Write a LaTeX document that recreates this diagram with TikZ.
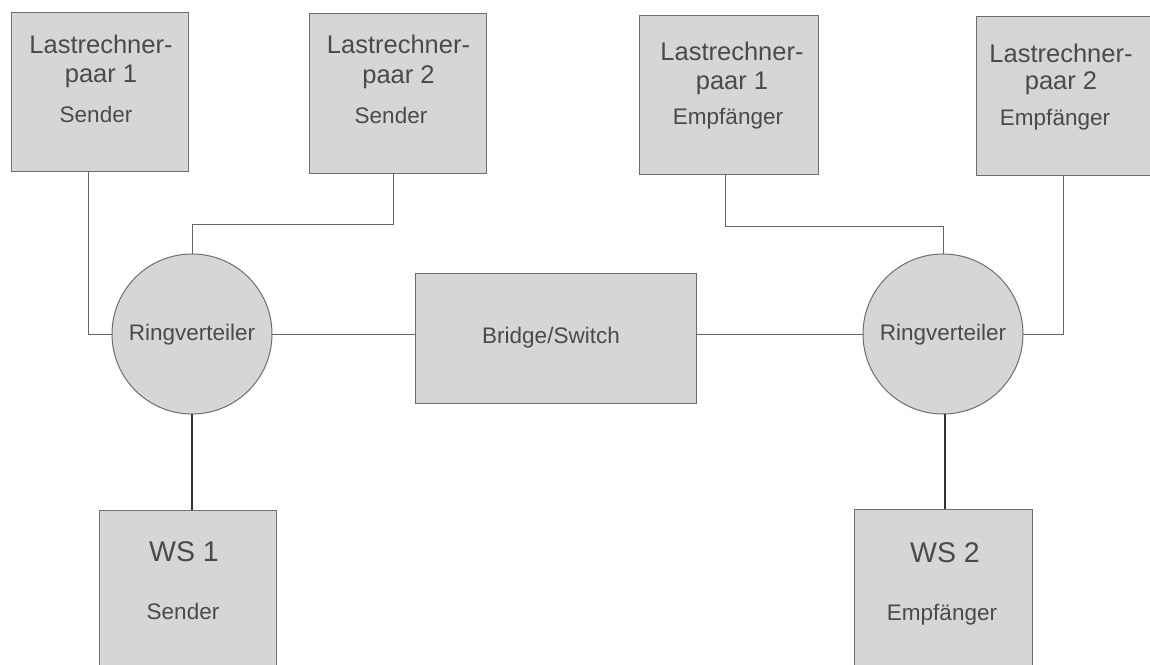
\documentclass[tikz,border=0pt]{standalone}
\usepackage{fontspec}
\setmainfont{Liberation Sans}
\definecolor{boxfill}{HTML}{D6D6D6}
\definecolor{boxdraw}{HTML}{6E6E6E}
\definecolor{wire}{HTML}{666666}
\definecolor{txt}{HTML}{4A4A4A}
\tikzset{
  unitbox/.style={draw=boxdraw, fill=boxfill, line width=1pt, inner sep=0pt, outer sep=0pt, rectangle},
  ringnode/.style={draw=boxdraw, fill=boxfill, line width=1pt, circle, inner sep=0pt, outer sep=0pt, minimum size=160pt},
  bigtxt/.style={anchor=base, text=txt, font=\fontsize{25.5}{30}\selectfont, inner sep=0pt},
  subtxt/.style={anchor=base, text=txt, font=\fontsize{22.5}{27}\selectfont, inner sep=0pt},
  wstxt/.style={anchor=base, text=txt, font=\fontsize{28.5}{34}\selectfont, inner sep=0pt},
  wire/.style={draw=wire, line width=1pt},
  thickwire/.style={draw=black!80, line width=1.5pt}
}
\begin{document}
\begin{tikzpicture}[x=1pt, y=-1pt]
\useasboundingbox (0,0) rectangle (1150,664);
\clip (0,0) rectangle (1150,664);
% boxes
\node[unitbox, minimum width=177pt, minimum height=159pt] (lp1s) at (99.5,91.5) {};
\node[unitbox, minimum width=177pt, minimum height=160pt] (lp2s) at (397.5,93) {};
\node[unitbox, minimum width=179pt, minimum height=159pt] (lp1e) at (728.5,94.5) {};
\node[unitbox, minimum width=178pt, minimum height=159pt] (lp2e) at (1065,95.5) {};
\node[unitbox, minimum width=281pt, minimum height=130pt] (bridge) at (555.5,338) {};
\node[ringnode] (ring1) at (192,334) {};
\node[ringnode] (ring2) at (943,334) {};
\node[unitbox, minimum width=177pt, minimum height=160pt] (ws1) at (187.5,590) {};
\node[unitbox, minimum width=178pt, minimum height=160pt] (ws2) at (943,589) {};
% texts
\node[bigtxt] (t1a) at (101,53) {Lastrechner-};
\node[bigtxt] (t1b) at (101,82) {paar 1};
\node[subtxt] (t1c) at (96,122.5) {Sender};
\node[bigtxt] (t2a) at (398.5,53) {Lastrechner-};
\node[bigtxt] (t2b) at (398.5,83) {paar 2};
\node[subtxt] (t2c) at (391,123) {Sender};
\node[bigtxt] (t3a) at (732,60) {Lastrechner-};
\node[bigtxt] (t3b) at (732,89) {paar 1};
\node[subtxt] (t3c) at (728,124) {Empfänger};
\node[bigtxt] (t4a) at (1061,62) {Lastrechner-};
\node[bigtxt] (t4b) at (1061,89) {paar 2};
\node[subtxt] (t4c) at (1055,125) {Empfänger};
\node[subtxt] (r1t) at (192,340) {Ringverteiler};
\node[subtxt] (r2t) at (943,340) {Ringverteiler};
\node[subtxt] (bt) at (551,343) {Bridge/Switch};
\node[wstxt] (w1a) at (184,561) {WS 1};
\node[subtxt] (w1b) at (183,619) {Sender};
\node[wstxt] (w2a) at (945,562) {WS 2};
\node[subtxt] (w2b) at (942,620) {Empfänger};
% connectors
\draw[wire] (lp1s.south) ++(-11.5,0) |- (ring1.west);
\draw[wire] (lp2s.south) ++(-4.5,0) -- ++(0,51) -| (ring1.north);
\draw[wire] (lp1e.south) ++(-3.5,0) -- ++(0,52) -| (ring2.north);
\draw[wire] (lp2e.south) ++(-2,0) |- (ring2.east);
\draw[wire] (ring1.east) -- (ring1.east -| bridge.west);
\draw[wire] (bridge.east |- ring2.west) -- (ring2.west);
\draw[thickwire] (ring1.south) -- (ring1.south |- ws1.north);
\draw[thickwire] ([xshift=2pt]ring2.south) -- ([xshift=2pt]ring2.south |- ws2.north);
\end{tikzpicture}
\end{document}
